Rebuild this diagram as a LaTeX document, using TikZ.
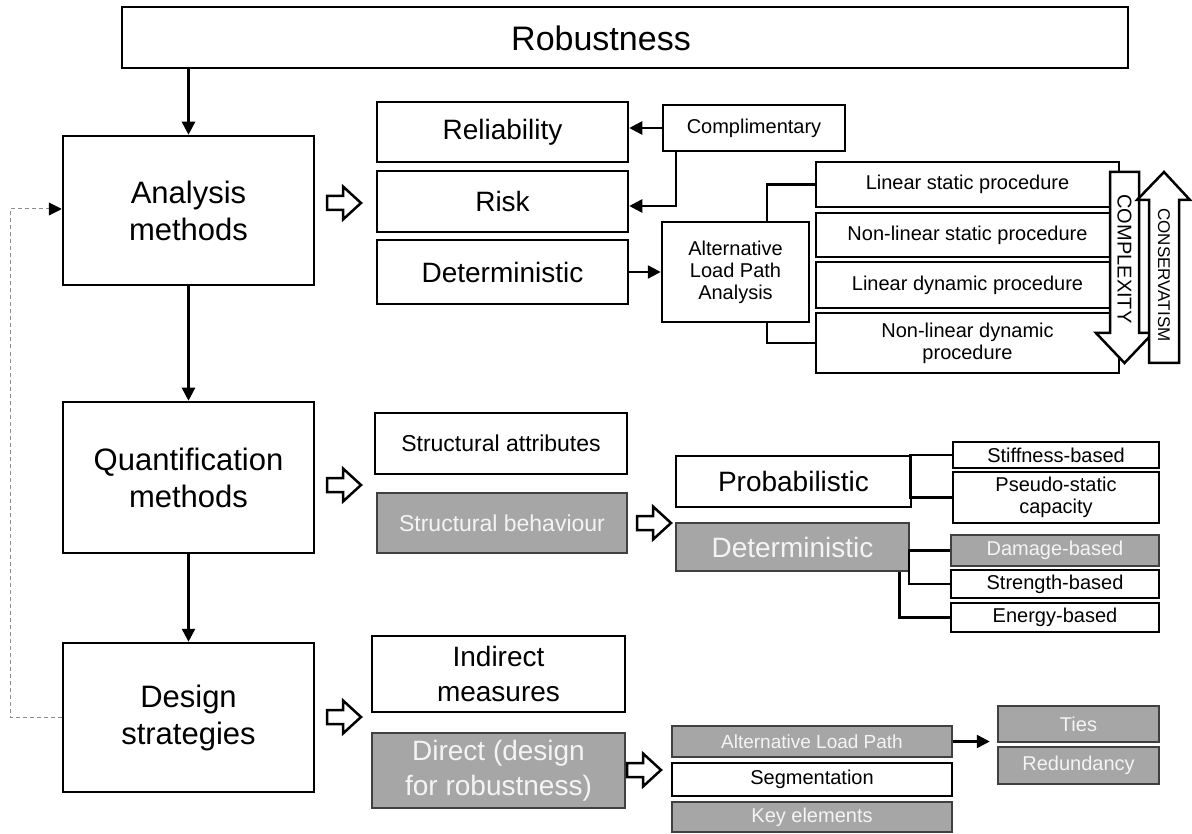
\documentclass[tikz,border=0pt]{standalone}
\usepackage{fontspec}
\setmainfont{Liberation Sans}
\usetikzlibrary{arrows.meta}

\definecolor{boxgrey}{HTML}{A6A6A6}
\definecolor{boxedge}{HTML}{404040}
\definecolor{boxtext}{HTML}{F4F4F4}
\definecolor{dashgrey}{HTML}{8C8C8C}

\tikzset{
  box/.style={draw, line width=2.5pt, fill=white, inner sep=1pt, align=center,
    font=\fontsize{20}{22}\selectfont},
  bigbox/.style={box, font=\fontsize{28}{36}\selectfont},
  mainbox/.style={box, minimum width=251pt, font=\fontsize{31}{37}\selectfont},
  greybox/.style={box, draw=boxedge, fill=boxgrey, text=boxtext},
  conn/.style={line width=2.5pt, -{Triangle[length=13pt,width=13pt]}},
  wire/.style={line width=2.5pt},
  hollow/.style={draw, line width=2.5pt, fill=white, line join=miter},
}

\begin{document}
\begin{tikzpicture}[x=1pt,y=-1pt]
    \fill[white] (0,0) rectangle (1192,834);
    \useasboundingbox (0,0) rectangle (1192,834);
    % main column
    \node[box, minimum width=1006pt, minimum height=61pt] (robust) at (625,37.5) {};
    \node[font=\fontsize{34}{36}\selectfont] (robustlbl) at (601,38) {Robustness};
    \node[mainbox, minimum height=149pt] (anal) at (188.5,210.5) {Analysis\\methods};
    \node[mainbox, minimum height=151pt] (quant) at (188.5,477.5) {Quantification\\methods};
    \node[mainbox, minimum height=149pt] (design) at (188.5,717.5) {Design\\strategies};
    \draw[conn] (robust.south -| anal.north) -- (anal.north);
    \draw[conn] (anal.south) -- (quant.north);
    \draw[conn] (quant.south) -- (design.north);
    \draw[dashgrey, line width=1pt, dash pattern=on 4pt off 3pt,
        -{Triangle[length=13pt,width=13pt,color=black]}]
        (design.west) -- ++(-51,0) |- ([yshift=1.5pt]anal.west);
    % analysis methods
    \node[bigbox, minimum width=251pt, minimum height=60pt] (reli) at (502.5,132) {Reliability};
    \node[bigbox, minimum width=251pt, minimum height=61pt] (risk) at (502.5,201.5) {Risk};
    \node[bigbox, minimum width=251pt, minimum height=64pt] (detA) at (502.5,272) {Deterministic};
    \node[box, minimum width=182pt, minimum height=46pt] (compl) at (754,128) {Complimentary};
    \draw[conn] (compl.west) -- (compl.west -| reli.east);
    \draw[conn] ([xshift=14pt]compl.south west) |- ([yshift=-4.5pt]risk.east);
    \node[box, minimum width=147pt, minimum height=100pt] (alpa) at (735.5,272) {Alternative\\Load Path\\Analysis};
    \draw[conn] (detA.east) -- (alpa.west);
    \node[box, minimum width=303pt, minimum height=45pt] (lsp) at (967.5,184.5) {Linear static procedure};
    \node[box, minimum width=303pt, minimum height=44pt] (nlsp) at (967.5,235) {Non-linear static procedure};
    \node[box, minimum width=303pt, minimum height=46pt] (ldp) at (967.5,285) {Linear dynamic procedure};
    \node[box, minimum width=303pt, minimum height=60pt] (nldp) at (967.5,343) {Non-linear dynamic\\procedure};
    \draw[wire] ([xshift=31.5pt]alpa.north) |- (lsp.west);
    \draw[wire] ([xshift=31.5pt]alpa.south) |- (nldp.west);
    % complexity / conservatism
    \draw[hollow] (1110,172) -- (1139,172) -- (1139,333) -- (1153,333) -- (1124.5,363)
        -- (1096,333) -- (1110,333) -- cycle;
    \node[rotate=-90, font=\fontsize{20}{22}\selectfont] (cplx) at (1124.5,259) {COMPLEXITY};
    \draw[hollow] (1149,363) -- (1179,363) -- (1179,200) -- (1190,200) -- (1164,172)
        -- (1137,200) -- (1149,200) -- cycle;
    \node[rotate=-90, font=\fontsize{17}{20}\selectfont] (cons) at (1164,275) {CONSERVATISM};
    % quantification methods
    \node[box, minimum width=252pt, minimum height=61pt, font=\fontsize{23}{26}\selectfont] (sattr) at (501,443.5) {Structural attributes};
    \node[greybox, minimum width=250pt, minimum height=60pt, font=\fontsize{23}{26}\selectfont] (sbeh) at (502,523) {Structural behaviour};
    \node[bigbox, minimum width=235pt, minimum height=51pt] (prob) at (793.5,481.5) {Probabilistic};
    \node[greybox, minimum width=233pt, minimum height=48pt, font=\fontsize{28}{36}\selectfont] (detQ) at (792.5,547) {Deterministic};
    \node[box, minimum width=206pt, minimum height=26pt] (stiff) at (1056,455) {Stiffness-based};
    \node[box, minimum width=206pt, minimum height=51pt] (pseudo) at (1056,497.5) {Pseudo-static\\capacity};
    \node[greybox, minimum width=208pt, minimum height=31pt] (damage) at (1055,550.5) {Damage-based};
    \node[box, minimum width=208pt, minimum height=28pt] (strength) at (1055,584) {Strength-based};
    \node[box, minimum width=208pt, minimum height=29pt] (energy) at (1055,617.5) {Energy-based};
    \draw[wire] (stiff.west) -- ++(-42,0) |- (pseudo.west);
    \draw[wire] (damage.west) -- ++(-41,0) |- (strength.west);
    \draw[wire] (energy.west) -| ([xshift=-11pt]detQ.south east);
    % design strategies
    \node[bigbox, minimum width=253pt, minimum height=76pt, font=\fontsize{28}{35}\selectfont] (indirect) at (498.5,674) {Indirect\\measures};
    \node[greybox, minimum width=253pt, minimum height=75pt, font=\fontsize{28}{35}\selectfont] (direct) at (498.5,770.5) {Direct (design\\for robustness)};
    \node[greybox, minimum width=280pt, minimum height=31pt, font=\fontsize{19}{22}\selectfont] (alp) at (812,741.5) {Alternative Load Path};
    \node[box, minimum width=280pt, minimum height=33pt] (seg) at (812,779.5) {Segmentation};
    \node[greybox, minimum width=280pt, minimum height=30pt] (key) at (812,817) {Key elements};
    \node[greybox, minimum width=161pt, minimum height=36pt] (ties) at (1078.5,724) {Ties};
    \node[greybox, minimum width=161pt, minimum height=37pt] (redund) at (1078.5,765.5) {Redundancy};
    \draw[conn, shorten >=7pt] (alp.east) -- (alp.east -| ties.west);
    % block arrows
    \foreach \hx/\hy in {327/203, 327/485, 327/717, 637/523, 627/770}
        \draw[hollow] (\hx,\hy-7) -- ++(16,0) -- ++(0,-9.5) -- ++(18,16.5)
            -- ++(-18,16.5) -- ++(0,-9.5) -- ++(-16,0) -- cycle;
\end{tikzpicture}
\end{document}
